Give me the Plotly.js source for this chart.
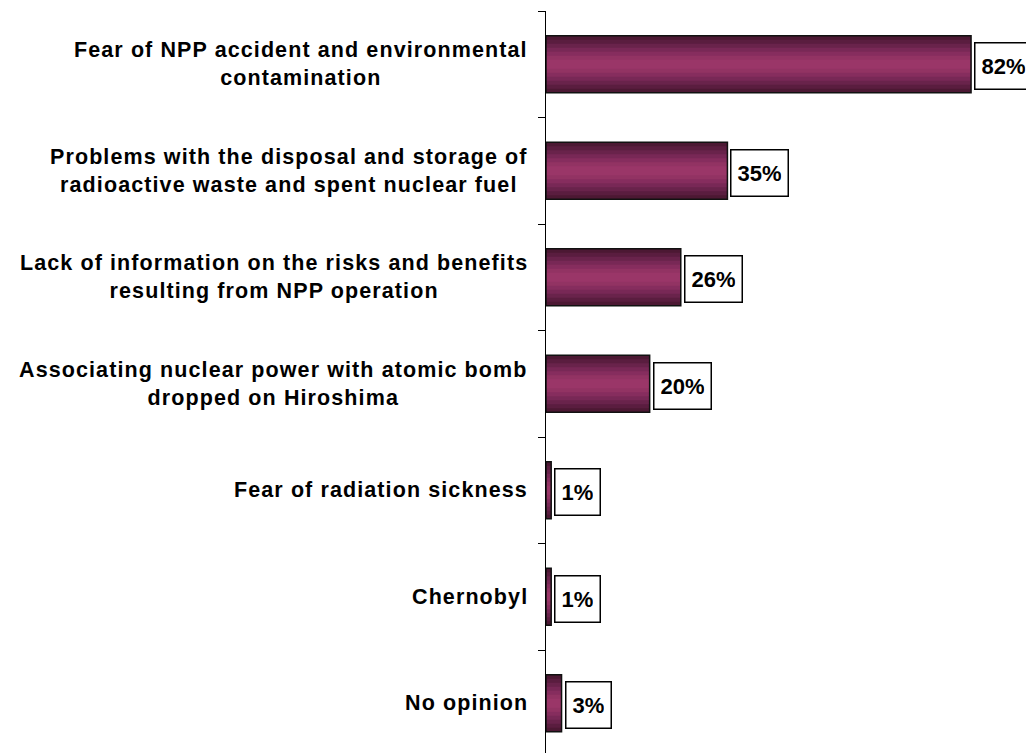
<!DOCTYPE html>
<html>
<head>
<meta charset="utf-8">
<script src="https://cdn.plot.ly/plotly-3.0.1.min.js"></script>
<style>
  html, body { margin: 0; padding: 0; background: #ffffff; overflow: hidden; }
  #chart { width: 1026px; height: 753px; }
  /* looser tracking for the category captions (Arial-set text only) */
  text.annotation-text[style*="Arial"] { letter-spacing: 1.1px; }
</style>
</head>
<body>
<div id="chart"></div>
<script>
// Reasons given, top to bottom
const categories = [
  "Fear of NPP accident and environmental<br>contamination",
  "Problems with the disposal and storage of<br>radioactive waste and spent nuclear fuel",
  "Lack of information on the risks and benefits<br>resulting from NPP operation",
  "Associating nuclear power with atomic bomb<br>dropped on Hiroshima",
  "Fear of radiation sickness",
  "Chernobyl",
  "No opinion"
];
// Share of respondents, %
const values = [82, 35, 26, 20, 1, 1, 3];
const valueLabels = values.map(v => v + "%");

// Horizontal shading of the bars: dark edges, lighter core
const shadeColors = ["#4c1833", "#5a1d3f", "#69234b", "#782856", "#862d5e", "#923363", "#9a3668"];
const shadeScale = [1, 0.86, 0.72, 0.58, 0.44, 0.30, 0.16];
const barWidth = 0.535;

const traces = shadeColors.map((c, i) => ({
  type: "bar",
  orientation: "h",
  x: values,
  y: categories,
  width: barWidth * shadeScale[i],
  marker: { color: c, line: { width: 0 } },
  hoverinfo: "skip",
  showlegend: false
}));
// outline on top
traces.push({
  type: "bar",
  orientation: "h",
  x: values,
  y: categories,
  width: barWidth,
  marker: { color: "rgba(0,0,0,0)", line: { color: "#111111", width: 1.5 } },
  hoverinfo: "skip",
  showlegend: false
});

const valueNotes = values.map((v, i) => ({
  x: v,
  y: categories[i],
  xref: "x",
  yref: "y",
  text: "<b>" + valueLabels[i] + "</b>",
  showarrow: false,
  xanchor: "left",
  yanchor: "middle",
  xshift: 3,
  yshift: -2,
  font: { family: "Liberation Sans", size: 22, color: "#000000" },
  bgcolor: "#ffffff",
  bordercolor: "#000000",
  borderwidth: 1.5,
  borderpad: 6,
  height: 33
}));

const categoryNotes = categories.map(c => ({
  x: 0,
  y: c,
  xref: "paper",
  yref: "y",
  text: "<b>" + c + "</b>",
  showarrow: false,
  xanchor: "right",
  yanchor: "middle",
  align: "center",
  xshift: -16,
  font: { family: "Arial", size: 21.5, color: "#000000" }
}));

const layout = {
  width: 1026,
  height: 753,
  margin: { l: 546, r: 0, t: 11, b: 0, pad: 0 },
  paper_bgcolor: "#ffffff",
  plot_bgcolor: "#ffffff",
  barmode: "overlay",
  showlegend: false,
  xaxis: {
    range: [0, 92.6],
    visible: false,
    fixedrange: true
  },
  yaxis: {
    type: "category",
    range: [6.467, -0.5],
    showline: true,
    linecolor: "#000000",
    linewidth: 1,
    ticks: "outside",
    tickson: "boundaries",
    ticklen: 7,
    tickwidth: 1,
    tickcolor: "#000000",
    showticklabels: false,
    showgrid: false,
    zeroline: false,
    fixedrange: true
  },
  annotations: categoryNotes.concat(valueNotes)
};

Plotly.newPlot("chart", traces, layout, { staticPlot: true, displayModeBar: false });
</script>
</body>
</html>
